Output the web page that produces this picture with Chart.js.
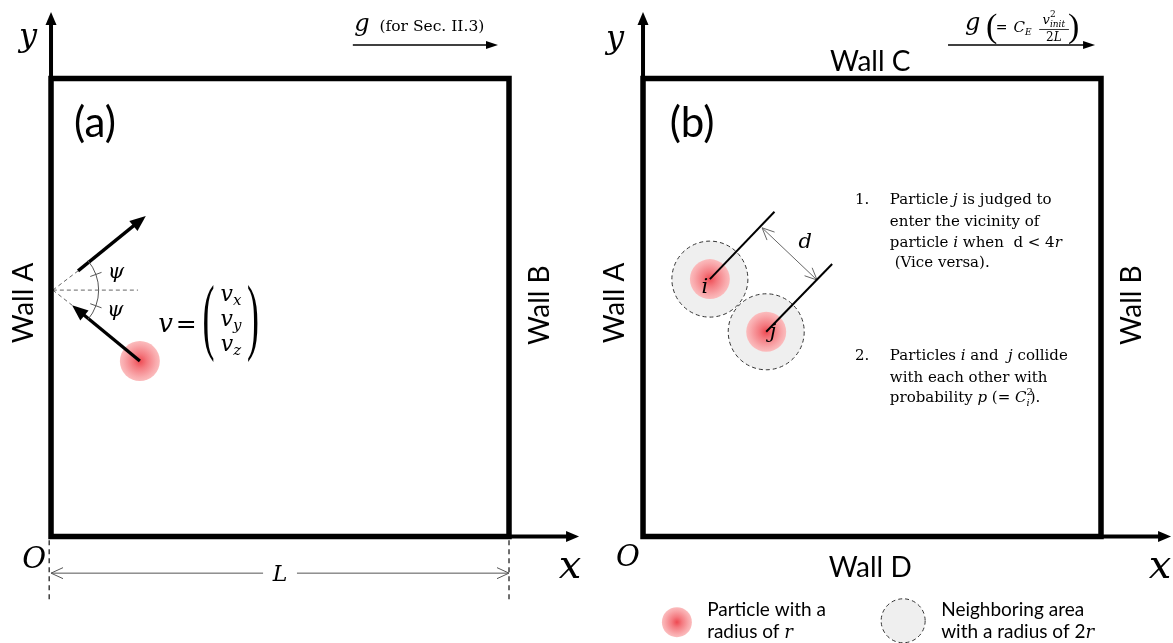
<!DOCTYPE html>
<html lang="en">
<head>
<meta charset="utf-8">
<title>Particle model: wall reflection and pair collision</title>
<script src="https://cdn.jsdelivr.net/npm/chart.js@4.4.1/dist/chart.umd.min.js"></script>
<style>
  html, body { margin: 0; padding: 0; background: #fff; overflow: hidden; }
  canvas { display: block; }
</style>
</head>
<body>
<canvas id="fig" width="1173" height="643"></canvas>
<script>
// ---------- Geometry, in percent of the box side L (each box spans 0..100) ----------
const PANEL_B = 129.26;                          // horizontal offset of panel (b)
const BOX = [[0, 0], [100, 0], [100, 100], [0, 100], [0, 0]];
const Y_AXIS = [[0, 0], [0, 114.5]];
const X_AXIS = [[0, 0], [115.3, 0]];

// (a) specular reflection at wall A
const WALL_HIT = [0.4, 53.8];
const NORMAL_END = [19.0, 53.8];
const REFLECTED = [[5.9, 58.0], [20.7, 70.0]];
const INCIDENT = [[19.4, 38.3], [4.6, 50.5]];
const PARTICLE_A = [19.4, 38.3];
const PSI_ARC = [10.0, 40, 20];                  // radius, half opening (deg), tick angle (deg)
const L_MARKS = [-0.4, 100.0];                   // dashed extension lines of L
const L_MARK_SPAN = [-0.8, -14.5];
const L_ROW = -8.0;                              // height of the L dimension line
const L_GAP = [46.3, 53.7];                      // room left for the L label
const G_ARROW_A = [[65.9, 107.3], [97.6, 107.3]];

// (b) neighbour search and collision of particles i and j
const PARTICLES_B = [[14.6, 56.2], [26.9, 44.7]];                        // i, j
const LEADERS = [[[14.6, 56.2], [28.7, 70.9]], [[26.9, 44.7], [41.3, 59.5]]];
const D_SPAN = [[26.0, 67.4], [38.0, 56.0]];
const G_ARROW_B = [[66.6, 107.3], [98.7, 107.3]];
const KEY_PARTICLE = [7.4, -18.7];
const KEY_AREA = [56.8, -18.4];

// ---------- Fonts ----------
const SERIF = '"DejaVu Serif", "Liberation Serif", serif';
const THIN = '"Liberation Serif", "DejaVu Serif", serif';
const SANS = 'Lato, "Open Sans", sans-serif';
const rm = s => `${s}px ${SERIF}`;
const it = s => `italic ${s}px ${SERIF}`;
const sans = s => `${s}px ${SANS}`;
const thin = s => `${s}px ${THIN}`;

// ---------- Text labels: [panel, x, y, runs, align, rotated] ; run = [text, font, dy, advance] ----------
const LABELS = [
  ['a', -5.0, 107.1, [['y', it(32)]], 'center'],
  ['a', -3.7, -6.9, [['O', it(29)]], 'center'],
  ['a', 113.3, -9.1, [['x', it(40)]], 'center'],
  ['a', 9.6, 87.2, [['(a)', sans(42)]], 'center'],
  ['a', -3.9, 51.0, [['Wall A', sans(28)]], 'center', true],
  ['a', 108.7, 50.5, [['Wall B', sans(28)]], 'center', true],
  ['a', 66.2, 110.4, [['g', it(24)], ['  (for Sec. II.3)', rm(15.5)]], 'left'],
  ['a', 14.2, 56.4, [['\u03C8', it(21)]], 'center'],
  ['a', 14.0, 48.1, [['\u03C8', it(21)]], 'center'],
  ['a', 23.4, 44.65, [['v', it(26)]], 'left'],
  ['a', 29.5, 44.65, [['=', rm(25)]], 'center'],
  ['a', 39.3, 51.4, [['v', it(22)], ['x', it(15), 4]], 'center'],
  ['a', 39.3, 46.0, [['v', it(22)], ['y', it(15), 4]], 'center'],
  ['a', 39.3, 40.5, [['v', it(22)], ['z', it(15), 4]], 'center'],
  ['a', 50.0, -9.7, [['L', it(22)]], 'center'],

  ['b', -6.1, 106.7, [['y', it(32)]], 'center'],
  ['b', -3.3, -6.4, [['O', it(29)]], 'center'],
  ['b', 112.9, -9.1, [['x', it(40)]], 'center'],
  ['b', 10.7, 87.2, [['(b)', sans(42)]], 'center'],
  ['b', -4.2, 51.0, [['Wall A', sans(28)]], 'center', true],
  ['b', 108.7, 50.5, [['Wall B', sans(28)]], 'center', true],
  ['b', 49.6, 101.6, [['Wall C', sans(28)]], 'center'],
  ['b', 49.6, -8.8, [['Wall D', sans(28)]], 'center'],
  ['b', 70.3, 110.6, [['g', it(24)]], 'left'],
  ['b', 74.9, 109.0, [['(', thin(34)]], 'left'],
  ['b', 77.0, 110.1, [['=', rm(14)]], 'left'],
  ['b', 80.9, 110.1, [['C', it(15)], ['E', it(9), 3]], 'left'],
  ['b', 89.7, 112.0, [['v', it(13)], ['2', rm(9), -7, false], ['init', it(9), 3]], 'center'],
  ['b', 89.7, 108.1, [['2', rm(12)], ['L', it(12)]], 'center'],
  ['b', 92.8, 109.0, [[')', thin(34)]], 'left'],
  ['b', 35.4, 63.0, [['d', it(21)]], 'center'],
  ['b', 13.5, 53.2, [['i', it(21)]], 'center'],
  ['b', 28.4, 43.3, [['j', it(21)]], 'center'],

  ['b', 46.3, 72.6, [['1.', rm(15)]], 'left'],
  ['b', 53.9, 72.6, [['Particle ', rm(15)], ['j', it(15)], [' is judged to', rm(15)]], 'left'],
  ['b', 53.9, 67.8, [['enter the vicinity of', rm(15)]], 'left'],
  ['b', 53.9, 63.2, [['particle ', rm(15)], ['i', it(15)], [' when  d < 4', rm(15)], ['r', it(15)]], 'left'],
  ['b', 53.9, 58.8, [[' (Vice versa).', rm(15)]], 'left'],
  ['b', 46.3, 38.5, [['2.', rm(15)]], 'left'],
  ['b', 53.9, 38.5, [['Particles ', rm(15)], ['i', it(15)], [' and  ', rm(15)], ['j', it(15)], [' collide', rm(15)]], 'left'],
  ['b', 53.9, 33.7, [['with each other with', rm(15)]], 'left'],
  ['b', 53.9, 29.4, [['probability ', rm(15)], ['p', it(15)], [' (= ', rm(15)], ['C', it(15)],
                    ['2', rm(10), -7, false], ['i', it(10), 4], [').', rm(15)]], 'left'],

  ['b', 14.0, -17.4, [['Particle with a', sans(19)]], 'left'],
  ['b', 14.0, -22.2, [['radius of ', sans(19)], ['r', it(18)]], 'left'],
  ['b', 65.1, -17.4, [['Neighboring area', sans(19)]], 'left'],
  ['b', 65.1, -22.2, [['with a radius of 2', sans(19)], ['r', it(18)]], 'left']
];

// Stretched delimiters of the velocity vector: [x, y centre, glyph]
const MATRIX_PARENS = [[34.4, 46.8, '('], [44.1, 46.8, ')']];
const FRACTION_BAR = [[86.5, 110.7], [93.0, 110.7]];

// ---------- Dataset builders ----------
const pts = (list, dx = 0) => list.map(([x, y]) => ({ x: x + dx, y }));
const stroke = (list, dx, opt) => Object.assign({
  type: 'scatter', showLine: true, data: pts(list, dx),
  pointRadius: 0, pointHoverRadius: 0, borderColor: '#000', backgroundColor: '#000',
  borderWidth: 1, tension: 0, clip: false, fill: false, order: 10
}, opt);

const AXIS_HEAD = { len: 13, half: 5.5 };
const VEL_HEAD = { len: 16, half: 6.5 };
const G_HEAD = { len: 12, half: 4 };
const OPEN_HEAD = { len: 12, half: 5.5, open: true };
const GUIDE = { borderColor: '#666', borderWidth: 1, borderDash: [4, 3] };

const datasets = [];
[0, PANEL_B].forEach(dx => {
  datasets.push(stroke(Y_AXIS, dx, { borderWidth: 4, head: AXIS_HEAD, order: 6 }));
  datasets.push(stroke(X_AXIS, dx, { borderWidth: 4, head: AXIS_HEAD, order: 6 }));
  datasets.push(stroke(BOX, dx, { borderWidth: 5.5, borderCapStyle: 'square', borderJoinStyle: 'miter', order: 5 }));
});

// (a) reflection guides and velocity arrows
datasets.push(stroke([WALL_HIT, NORMAL_END], 0, GUIDE));
datasets.push(stroke([WALL_HIT, REFLECTED[0]], 0, GUIDE));
datasets.push(stroke([WALL_HIT, INCIDENT[1]], 0, GUIDE));
datasets.push(stroke(REFLECTED, 0, { borderWidth: 3.3, head: VEL_HEAD }));
datasets.push(stroke(INCIDENT, 0, { borderWidth: 3.3, head: VEL_HEAD }));
datasets.push(stroke(G_ARROW_A, 0, { borderWidth: 1.5, head: G_HEAD }));
L_MARKS.forEach(x => datasets.push(stroke([[x, L_MARK_SPAN[0]], [x, L_MARK_SPAN[1]]], 0,
  { borderColor: '#222', borderWidth: 1.3, borderDash: [5, 4] })));
datasets.push(stroke([[L_GAP[0], L_ROW], [0, L_ROW]], 0, { borderColor: '#555', head: OPEN_HEAD }));
datasets.push(stroke([[L_GAP[1], L_ROW], [100, L_ROW]], 0, { borderColor: '#555', head: OPEN_HEAD }));

// (b) leaders, separation d and gravity arrow
LEADERS.forEach(seg => datasets.push(stroke(seg, PANEL_B, { borderWidth: 2 })));
datasets.push(stroke(D_SPAN, PANEL_B, { borderColor: '#666', head: OPEN_HEAD, tail: OPEN_HEAD }));
datasets.push(stroke(G_ARROW_B, PANEL_B, { borderWidth: 1.5, head: G_HEAD }));

// Neighbouring areas (radius 2r) and particles (radius r)
datasets.push({
  type: 'scatter', data: [...pts(PARTICLES_B, PANEL_B), ...pts([KEY_AREA], PANEL_B)],
  pointRadius: [38, 38, 22], pointHoverRadius: 0, pointStyle: 'circle',
  pointBackgroundColor: '#efefef', pointBorderColor: '#333', pointBorderWidth: 1,
  pointDash: [4, 3], clip: false, order: 30
});

function particleFill(c) {
  const ch = c.chart, p = c.raw, fallback = '#f6a0a3';
  if (!p || !ch.scales || !ch.scales.x || !ch.scales.y) return fallback;
  const x = ch.scales.x.getPixelForValue(p.x), y = ch.scales.y.getPixelForValue(p.y);
  const r = Array.isArray(c.dataset.pointRadius) ? c.dataset.pointRadius[c.dataIndex] : NaN;
  if (![x, y, r].every(Number.isFinite) || r <= 0) return fallback;
  const g = ch.ctx.createRadialGradient(x, y, 0, x, y, r);
  g.addColorStop(0, '#ee4a52');
  g.addColorStop(0.35, '#f47a80');
  g.addColorStop(0.8, '#f9aaad');
  g.addColorStop(1, '#fbbcbd');
  return g;
}
datasets.push({
  type: 'scatter', data: [...pts([PARTICLE_A]), ...pts(PARTICLES_B, PANEL_B), ...pts([KEY_PARTICLE], PANEL_B)],
  pointRadius: [20, 20, 20, 15], pointHoverRadius: 0, pointStyle: 'circle',
  pointBackgroundColor: particleFill, pointBorderWidth: 0, clip: false, order: 29
});

// ---------- Plugins ----------
function headGeom(meta, atStart, h) {
  const d = meta.data, n = d.length;
  const tip = atStart ? d[0] : d[n - 1], from = atStart ? d[1] : d[n - 2];
  const dx = tip.x - from.x, dy = tip.y - from.y, len = Math.hypot(dx, dy) || 1;
  const ux = dx / len, uy = dy / len;
  return { tip, ux, uy, nx: -uy, ny: ux, bx: tip.x - ux * h.len, by: tip.y - uy * h.len };
}

const strokeExtras = {
  id: 'strokeExtras',
  beforeDatasetDraw(chart, { index, meta }) {
    const ds = chart.data.datasets[index], ctx = chart.ctx;
    ctx.save();
    if (ds.pointDash) ctx.setLineDash(ds.pointDash);
    const solid = [];
    if (ds.head && !ds.head.open) solid.push(headGeom(meta, false, ds.head));
    if (ds.tail && !ds.tail.open) solid.push(headGeom(meta, true, ds.tail));
    if (solid.length) {
      // keep the shaft from poking through the filled head
      ctx.beginPath();
      ctx.rect(0, 0, chart.width, chart.height);
      solid.forEach(g => {
        const bx = g.bx + g.ux, by = g.by + g.uy, B = 40;
        ctx.moveTo(bx + g.nx * B, by + g.ny * B);
        ctx.lineTo(bx + g.nx * B + g.ux * B, by + g.ny * B + g.uy * B);
        ctx.lineTo(bx - g.nx * B + g.ux * B, by - g.ny * B + g.uy * B);
        ctx.lineTo(bx - g.nx * B, by - g.ny * B);
        ctx.closePath();
      });
      ctx.clip('evenodd');
    }
  },
  afterDatasetDraw(chart, { index, meta }) {
    const ds = chart.data.datasets[index], ctx = chart.ctx;
    ctx.restore();
    [[ds.head, false], [ds.tail, true]].forEach(([h, atStart]) => {
      if (!h) return;
      const g = headGeom(meta, atStart, h);
      ctx.save();
      ctx.strokeStyle = ctx.fillStyle = ds.borderColor;
      ctx.lineWidth = 1;
      ctx.lineJoin = 'miter';
      ctx.beginPath();
      ctx.moveTo(g.bx + g.nx * h.half, g.by + g.ny * h.half);
      ctx.lineTo(g.tip.x, g.tip.y);
      ctx.lineTo(g.bx - g.nx * h.half, g.by - g.ny * h.half);
      if (h.open) ctx.stroke(); else { ctx.closePath(); ctx.fill(); }
      ctx.restore();
    });
  }
};

function drawRuns(ctx, px, py, runs, align) {
  let total = 0;
  const w = runs.map(([t, f, , adv]) => {
    ctx.font = f;
    const v = ctx.measureText(t).width;
    if (adv !== false) total += v;
    return v;
  });
  let cx = align === 'center' ? px - total / 2 : align === 'right' ? px - total : px;
  runs.forEach(([t, f, dy, adv], k) => {
    ctx.font = f;
    ctx.fillText(t, cx, py + (dy || 0));
    if (adv !== false) cx += w[k];
  });
}

const annotations = {
  id: 'annotations',
  afterDatasetsDraw(chart) {
    const { ctx } = chart, sx = chart.scales.x, sy = chart.scales.y;
    const X = (v, p) => sx.getPixelForValue(v + (p === 'b' ? PANEL_B : 0));
    const Y = v => sy.getPixelForValue(v);
    const unit = sx.getPixelForValue(1) - sx.getPixelForValue(0);

    ctx.save();
    // angle arc with tick marks between the rays in (a)
    const cx = X(WALL_HIT[0], 'a'), cy = Y(WALL_HIT[1]);
    const r = PSI_ARC[0] * unit, open = PSI_ARC[1] * Math.PI / 180, tick = PSI_ARC[2] * Math.PI / 180;
    ctx.strokeStyle = '#555';
    ctx.lineWidth = 1;
    ctx.beginPath();
    ctx.arc(cx, cy, r, -open, open);
    ctx.stroke();
    [-tick, tick].forEach(a => {
      ctx.beginPath();
      ctx.moveTo(cx + Math.cos(a) * (r - 6), cy + Math.sin(a) * (r - 6));
      ctx.lineTo(cx + Math.cos(a) * (r + 6), cy + Math.sin(a) * (r + 6));
      ctx.stroke();
    });

    // fraction bar of the gravity expression in (b)
    ctx.strokeStyle = '#000';
    ctx.lineWidth = 0.8;
    ctx.beginPath();
    ctx.moveTo(X(FRACTION_BAR[0][0], 'b'), Y(FRACTION_BAR[0][1]));
    ctx.lineTo(X(FRACTION_BAR[1][0], 'b'), Y(FRACTION_BAR[1][1]));
    ctx.stroke();

    ctx.fillStyle = '#000';
    ctx.textAlign = 'left';
    ctx.textBaseline = 'alphabetic';

    // stretched parentheses of the velocity vector
    MATRIX_PARENS.forEach(([x, y, glyph]) => {
      ctx.save();
      ctx.translate(X(x, 'a'), Y(y));
      ctx.scale(1.2, 2.8);
      ctx.font = thin(30);
      ctx.textAlign = 'center';
      ctx.textBaseline = 'middle';
      ctx.fillText(glyph, 0, 0);
      ctx.restore();
    });

    LABELS.forEach(([p, x, y, runs, align, rotated]) => {
      const px = X(x, p), py = Y(y);
      if (rotated) {
        ctx.save();
        ctx.translate(px, py);
        ctx.rotate(-Math.PI / 2);
        drawRuns(ctx, 0, 0, runs, align);
        ctx.restore();
      } else {
        drawRuns(ctx, px, py, runs, align);
      }
    });
    ctx.restore();
  }
};

function build() {
  new Chart(document.getElementById('fig'), {
    type: 'scatter',
    data: { datasets },
    options: {
      responsive: false,
      animation: false,
      devicePixelRatio: 1,
      events: [],
      layout: { padding: 0, autoPadding: false },
      plugins: { legend: { display: false }, tooltip: { enabled: false } },
      scales: {
        x: { type: 'linear', min: -11.14, max: 244.98, display: false },
        y: { type: 'linear', min: -23.25, max: 117.14, display: false }
      }
    },
    plugins: [strokeExtras, annotations]
  });
}

const wanted = ['28px Lato', '15px "DejaVu Serif"', 'italic 15px "DejaVu Serif"', '15px "Liberation Serif"'];
Promise.all(wanted.map(f => document.fonts.load(f).catch(() => null))).finally(build);
</script>
</body>
</html>
